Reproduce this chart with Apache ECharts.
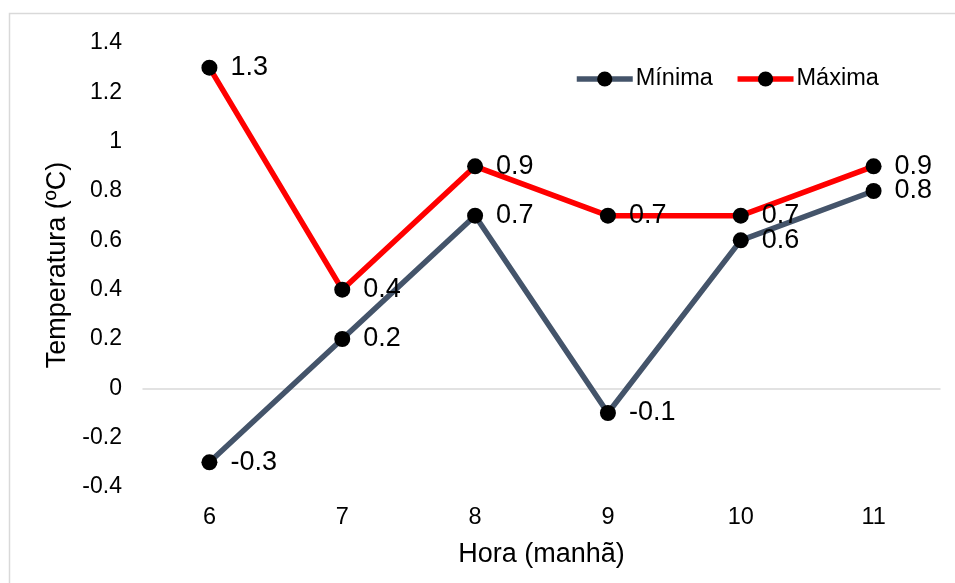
<!DOCTYPE html>
<html>
<head>
<meta charset="utf-8">
<script src="https://cdn.jsdelivr.net/npm/echarts@6/dist/echarts.min.js"></script>
<style>
html,body{margin:0;padding:0;background:#fff;}
#chart{width:955px;height:583px;}
</style>
</head>
<body>
<div id="chart"></div>
<script>
const hours = ['6', '7', '8', '9', '10', '11'];
const minima = [-0.3, 0.2, 0.7, -0.1, 0.6, 0.8];
const maxima = [1.3, 0.4, 0.9, 0.7, 0.7, 0.9];
const yMin = -0.4, yMax = 1.4, yStep = 0.2;

const FONT = 'Liberation Sans';
const chart = echarts.init(document.getElementById('chart'), null, {renderer: 'canvas'});

function mkSeries(name, data, color) {
  return {
    name: name,
    type: 'line',
    data: data,
    symbol: 'circle',
    symbolSize: 16,
    itemStyle: {color: '#000'},
    lineStyle: {color: color, width: 5.5},
    label: {
      show: true,
      position: 'right',
      distance: 13,
      fontFamily: FONT,
      fontSize: 27,
      color: '#000'
    },
    emphasis: {disabled: true},
    animation: false
  };
}

chart.setOption({
  animation: false,
  textStyle: {fontFamily: FONT},
  graphic: [{
    type: 'rect',
    shape: {x: 9.5, y: 13.5, width: 960, height: 600},
    style: {fill: 'none', stroke: '#d9d9d9', lineWidth: 1.5},
    silent: true,
    z: -10
  }],
  grid: {left: 143, right: 15, top: 43, bottom: 96, containLabel: false},
  legend: {
    left: 574,
    top: 67,
    padding: 0,
    itemWidth: 56,
    itemHeight: 19,
    itemGap: 22,
    lineStyle: {width: 5.5},
    textStyle: {fontFamily: FONT, fontSize: 23.5, color: '#000', padding: [0, 0, 0, -2]},
    data: ['Mínima', 'Máxima']
  },
  xAxis: [{
    type: 'category',
    data: hours,
    boundaryGap: true,
    axisLine: {show: false, onZero: false},
    axisTick: {show: false},
    splitLine: {show: false},
    axisLabel: {fontFamily: FONT, fontSize: 23.5, color: '#000', margin: 19},
    name: 'Hora (manhã)',
    nameLocation: 'middle',
    nameGap: 54,
    nameTextStyle: {fontFamily: FONT, fontSize: 27, color: '#000'}
  }, {
    type: 'category',
    data: hours,
    boundaryGap: true,
    axisLine: {show: true, onZero: true, lineStyle: {color: '#d9d9d9', width: 1.5}},
    axisTick: {show: false},
    axisLabel: {show: false},
    splitLine: {show: false}
  }],
  yAxis: {
    type: 'value',
    min: yMin,
    max: yMax,
    interval: yStep,
    axisLine: {show: false},
    axisTick: {show: false},
    splitLine: {show: false},
    axisLabel: {fontFamily: FONT, fontSize: 23, color: '#000', margin: 21},
    name: 'Temperatura (ºC)',
    nameLocation: 'middle',
    nameGap: 69,
    nameTextStyle: {fontFamily: FONT, fontSize: 27, color: '#000'}
  },
  series: [
    mkSeries('Mínima', minima, '#44546A'),
    mkSeries('Máxima', maxima, '#FF0000')
  ]
});
</script>
</body>
</html>
